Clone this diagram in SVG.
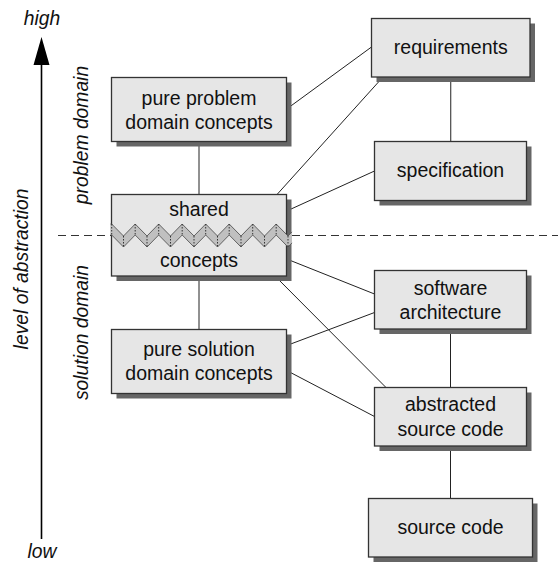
<svg xmlns="http://www.w3.org/2000/svg" width="558" height="563" viewBox="0 0 558 563">
<style>
  .shadow { fill: #666666; }
  .box { fill: #e6e6e6; stroke: #333333; stroke-width: 1.3; }
  .lbl { font-family: "Liberation Sans", Arial, sans-serif; font-size: 19.5px; fill: #111111; text-anchor: middle; }
  .ital { font-family: "Liberation Sans", Arial, sans-serif; font-size: 19.3px; font-style: italic; fill: #111111; text-anchor: middle; }
  .conn line { stroke: #222222; stroke-width: 1; }
  .band { fill: #c0c0c0; }
  .edge { fill: none; stroke: #555555; stroke-width: 0.9; }
  .dots line { stroke: #333333; stroke-width: 1; stroke-dasharray: 1.5 1.5; }
</style>
<rect width="558" height="563" fill="#ffffff"/>

<!-- axis -->
<g id="axis">
  <line x1="41.5" y1="62" x2="41.5" y2="539" stroke="#000000" stroke-width="1.6"/>
  <polygon points="41.5,37 33.5,65 49.5,65" fill="#000000"/>
  <text class="ital" x="42" y="25">high</text>
  <text class="ital" x="42" y="557.5">low</text>
  <text class="ital" transform="translate(28,269) rotate(-90)">level of abstraction</text>
  <text class="ital" transform="translate(88,135) rotate(-90)">problem domain</text>
  <text class="ital" transform="translate(88,332.5) rotate(-90)">solution domain</text>
</g>

<!-- domain boundary -->
<line id="boundary" x1="58" y1="235.5" x2="558" y2="235.5" stroke="#333333" stroke-width="1" stroke-dasharray="8 5"/>

<!-- connectors -->
<g id="connectors" class="conn">
  <line x1="450.75" y1="77" x2="450.75" y2="141.5"/>
  <line x1="286.7" y1="109" x2="371.5" y2="47"/>
  <line x1="277" y1="194.5" x2="383" y2="77"/>
  <line x1="199" y1="141.5" x2="199" y2="194.5"/>
  <line x1="286.7" y1="211" x2="374.5" y2="171"/>
  <line x1="286.7" y1="259" x2="374.5" y2="294"/>
  <line x1="275" y1="276" x2="386" y2="387.5"/>
  <line x1="286.7" y1="345.5" x2="374.5" y2="312.5"/>
  <line x1="286.7" y1="370.5" x2="374.5" y2="416.5"/>
  <line x1="450.5" y1="329" x2="450.5" y2="387.5"/>
  <line x1="450.5" y1="446" x2="450.5" y2="498.5"/>
  <line x1="199" y1="276" x2="199" y2="329.5"/>
</g>

<g id="requirements">
  <rect class="shadow" x="376.5" y="23.5" width="158.5" height="58.5"/>
  <rect class="box" x="371.5" y="18.5" width="158.5" height="58.5"/>
  <text class="lbl" x="450.75" y="54">requirements</text>
</g>

<g id="pure-problem">
  <rect class="shadow" x="116.5" y="82.5" width="175" height="64"/>
  <rect class="box" x="111.5" y="77.5" width="175" height="64"/>
  <text class="lbl" x="199" y="105">pure problem</text>
  <text class="lbl" x="199" y="128.5">domain concepts</text>
</g>

<g id="specification">
  <rect class="shadow" x="379.5" y="146.5" width="152" height="59"/>
  <rect class="box" x="374.5" y="141.5" width="152" height="59"/>
  <text class="lbl" x="450.5" y="177">specification</text>
</g>

<g id="shared-concepts">
  <rect class="shadow" x="116.5" y="199.5" width="175" height="81.5"/>
  <rect class="box" x="111.5" y="194.5" width="175" height="81.5"/>
  <text class="lbl" x="199" y="215.7">shared</text>
  <text class="lbl" x="199" y="266.7">concepts</text>
  <polygon class="band" points="110.5,224 111.7,224 123.5,236 135.2,224 147,236 158.7,224 170.5,236 182.2,224 194,236 205.7,224 217.5,236 229.2,224 241,236 252.7,224 264.5,236 276.2,224 288,236 292,231.9 292,242.9 288,247 276.2,235 264.5,247 252.7,235 241,247 229.2,235 217.5,247 205.7,235 194,247 182.2,235 170.5,247 158.7,235 147,247 135.2,235 123.5,247 111.7,235 110.5,235"/>
  <polyline class="edge" points="110.5,224 111.7,224 123.5,236 135.2,224 147,236 158.7,224 170.5,236 182.2,224 194,236 205.7,224 217.5,236 229.2,224 241,236 252.7,224 264.5,236 276.2,224 288,236 292,231.9"/>
  <polyline class="edge" points="110.5,235 111.7,235 123.5,247 135.2,235 147,247 158.7,235 170.5,247 182.2,235 194,247 205.7,235 217.5,247 229.2,235 241,247 252.7,235 264.5,247 276.2,235 288,247 292,242.9"/>
  <g class="dots">
    <line x1="111.7" y1="224" x2="111.7" y2="235"/>
    <line x1="123.5" y1="236" x2="123.5" y2="247"/>
    <line x1="135.2" y1="224" x2="135.2" y2="235"/>
    <line x1="147" y1="236" x2="147" y2="247"/>
    <line x1="158.7" y1="224" x2="158.7" y2="235"/>
    <line x1="170.5" y1="236" x2="170.5" y2="247"/>
    <line x1="182.2" y1="224" x2="182.2" y2="235"/>
    <line x1="194" y1="236" x2="194" y2="247"/>
    <line x1="205.7" y1="224" x2="205.7" y2="235"/>
    <line x1="217.5" y1="236" x2="217.5" y2="247"/>
    <line x1="229.2" y1="224" x2="229.2" y2="235"/>
    <line x1="241" y1="236" x2="241" y2="247"/>
    <line x1="252.7" y1="224" x2="252.7" y2="235"/>
    <line x1="264.5" y1="236" x2="264.5" y2="247"/>
    <line x1="276.2" y1="224" x2="276.2" y2="235"/>
    <line x1="288" y1="236" x2="288" y2="247"/>
  </g>
</g>

<g id="software-architecture">
  <rect class="shadow" x="379.5" y="275.5" width="152" height="58.5"/>
  <rect class="box" x="374.5" y="270.5" width="152" height="58.5"/>
  <text class="lbl" x="450.5" y="294.5">software</text>
  <text class="lbl" x="450.5" y="318.5">architecture</text>
</g>

<g id="pure-solution">
  <rect class="shadow" x="116.5" y="334.5" width="175" height="64"/>
  <rect class="box" x="111.5" y="329.5" width="175" height="64"/>
  <text class="lbl" x="199" y="355.5">pure solution</text>
  <text class="lbl" x="199" y="379.5">domain concepts</text>
</g>

<g id="abstracted-source-code">
  <rect class="shadow" x="379.5" y="392.5" width="152" height="58.5"/>
  <rect class="box" x="374.5" y="387.5" width="152" height="58.5"/>
  <text class="lbl" x="450.5" y="411">abstracted</text>
  <text class="lbl" x="450.5" y="435.5">source code</text>
</g>

<g id="source-code">
  <rect class="shadow" x="373.5" y="503.5" width="164" height="58.5"/>
  <rect class="box" x="368.5" y="498.5" width="164" height="58.5"/>
  <text class="lbl" x="450.5" y="534">source code</text>
</g>
</svg>
